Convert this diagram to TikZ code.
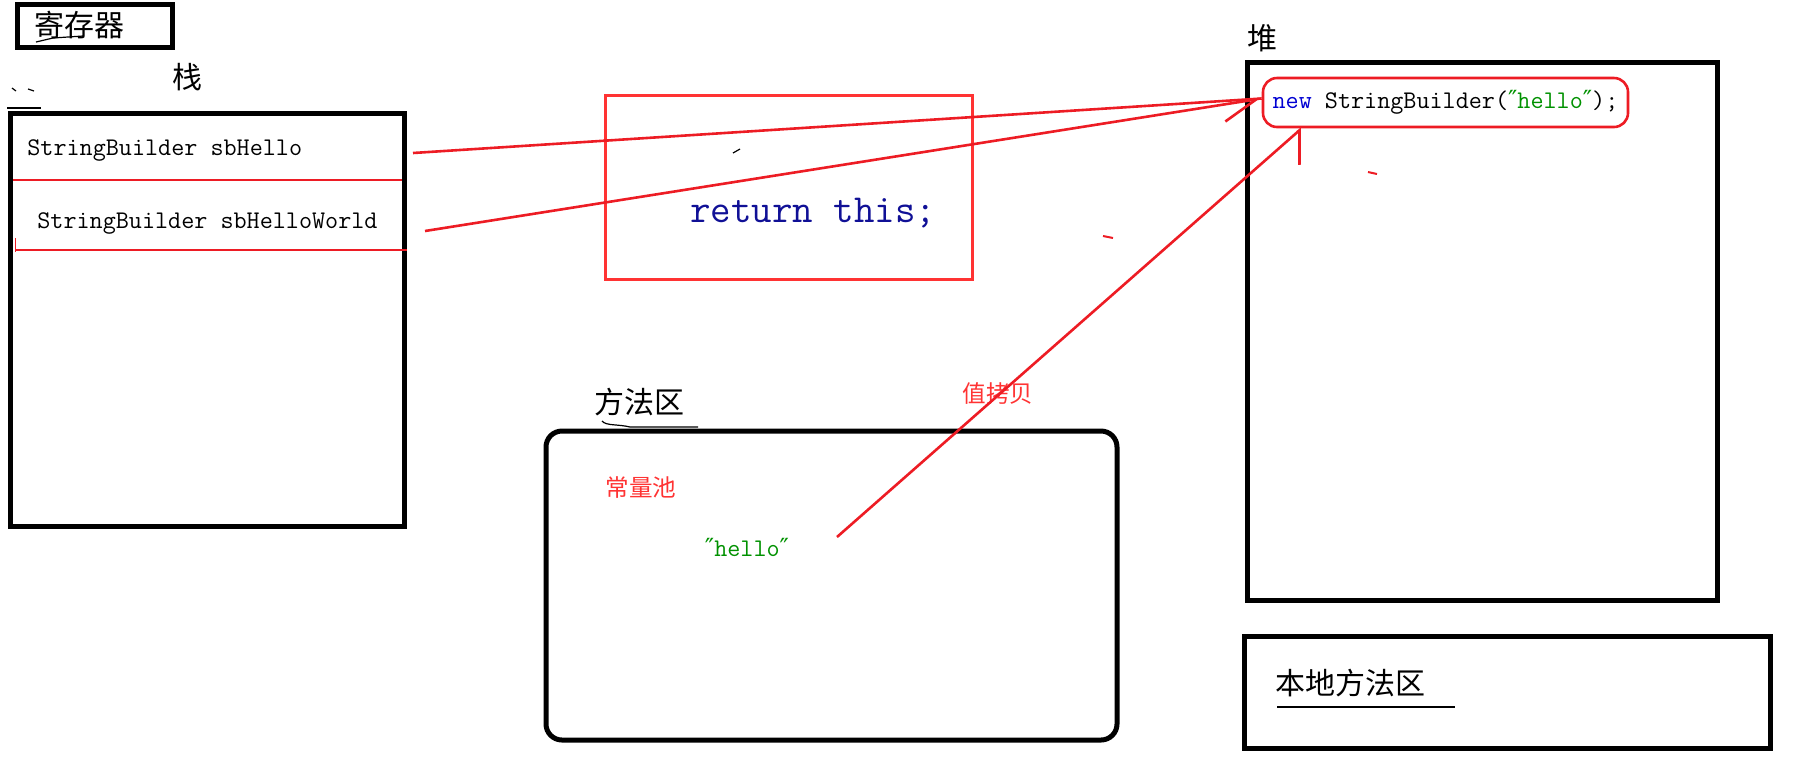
\documentclass[tikz,border=0pt]{standalone}
\usepackage{fontspec}
\newfontfamily\cjk{Noto Sans CJK SC}
\newfontfamily\quotefont{DejaVu Sans}
\usetikzlibrary{arrows.meta, positioning}
\definecolor{penred}{RGB}{237,28,36}
\definecolor{boxred}{RGB}{255,51,51}
\definecolor{kwblue}{RGB}{0,0,210}
\definecolor{navyblue}{RGB}{16,16,150}
\definecolor{strgreen}{RGB}{0,145,0}
\newcommand{\dq}{{\quotefont\fontsize{12.5}{14}\selectfont ″}}

\begin{document}
\begin{tikzpicture}[
    x=0.5pt, y=-0.5pt,
    membox/.style={draw, line width=2.5pt, inner sep=0pt},
    area/.style={membox, rounded corners=8pt},
    title/.style={font=\cjk\fontsize{15}{18}\selectfont, inner sep=0pt},
    note/.style={text=boxred, font=\cjk\fontsize{11.8}{14}\selectfont, inner sep=0pt},
    code/.style={font=\ttfamily\fontsize{12.7}{15}\selectfont, inner sep=0pt},
    slot/.style={draw=penred, line width=1.2pt},
    ref/.style={draw=penred, line width=1.3pt},
    stray/.style={line width=0.6pt}
]
\useasboundingbox (0,0) rectangle (1794,757);

% Register
\node[membox, minimum width=77.5pt, minimum height=21.5pt] at (95,26) (register) {};
\node[title] at (79,25) (registertext) {寄存器};
\draw[stray] (36,42) -- (53,38) -- (83,36);

% Stack
\node[title] at (187,77) (stacktext) {栈};
\node[membox, minimum width=197pt, minimum height=206.5pt] at (207.5,319.5) (stack) {};
\node[code, anchor=base west] at (27,155) (sbhello) {StringBuilder sbHello};
\node[code, anchor=base west] at (37,228) (sbhelloworld) {StringBuilder sbHelloWorld};
\draw[slot] (13,180) -- (402,180);
\draw[slot] (16,250) -- (407,250);
\draw[penred, line width=0.5pt] (15,238) -- (15,252);
\draw[stray] (12,88) -- (16,91) (28,89) -- (34,91);
\draw[stray] (7,108) -- (41,108);

% return this
\node[draw=boxred, line width=1.5pt, minimum width=183.5pt, minimum height=92pt] at (789,187.5) (returnbox) {};
\node[anchor=base west, inner sep=0pt, text=navyblue, font=\ttfamily\fontsize{19.9}{23}\selectfont] at (690,222) (returnthis) {return this;};
\draw[stray] (733,153) -- (740,149);

% Heap
\node[title] at (1262,38) (heaptext) {堆};
\node[membox, minimum width=235pt, minimum height=269pt] at (1482,331) (heap) {};
\node[ref, code, rounded corners=7pt, minimum width=182.5pt, minimum height=24.5pt] at (1445.5,102.5) (newsb)
    {{\color{kwblue}new} StringBuilder({\color{strgreen}\dq hello\dq});};

% Method area
\node[title] at (639,402) (methodtext) {方法区};
\draw[stray] (602,421) .. controls (606,426) and (618,424) .. (630,427) -- (698,427);
\node[area, minimum width=285.5pt, minimum height=154.5pt] at (831.5,585.5) (method) {};
\node[note] at (641,488) (pooltext) {常量池};
\node[code, text=strgreen] at (747,547) (hello) {\dq hello\dq};
\node[note] at (998,394) (copytext) {值拷贝};

% Native method area
\node[membox, minimum width=263pt, minimum height=56pt] at (1507,692) (native) {};
\node[title] at (1350,683) (nativetext) {本地方法区};
\draw[line width=0.6pt] (1277,707) -- (1455,707);

% References
\coordinate (fromhello) at (413,153);
\coordinate (fromworld) at (425,231);
\coordinate (fromconst) at (837,537);
\draw[ref] (fromhello) -- ([yshift=2pt]newsb.west);
\draw[ref, -{Straight Barb[harpoon, swap, length=17pt, width=17pt]}] (fromworld) -- ([yshift=2pt]newsb.west);
\draw[ref, -{Straight Barb[harpoon, swap, length=11.5pt, width=26pt]}] (fromconst) -- ([xshift=20pt]newsb.south west);

% pen marks
\draw[penred, line width=1pt] (1103,236) -- (1113,238) (1368,172) -- (1377,174);

\end{tikzpicture}
\end{document}
